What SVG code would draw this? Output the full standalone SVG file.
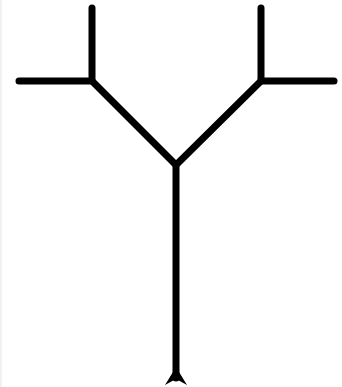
<svg xmlns="http://www.w3.org/2000/svg" width="342" height="387" viewBox="0 0 342 387">
<style>
.w{fill:none;stroke:#000;stroke-width:7;stroke-linecap:round;stroke-linejoin:round}
</style>
<rect width="342" height="387" fill="#fff"/>
<line x1="1" y1="0" x2="1" y2="387" stroke="#eeeeee" stroke-width="1.5"/>
<g id="connectors">
<polyline class="w" points="19,81 92,81 92,8"/>
<polyline class="w" points="334,81 261,81 261,8"/>
<polyline class="w" points="92,81 176,165 261,81"/>
<line class="w" x1="176" y1="165" x2="176" y2="378" stroke-linecap="butt"/>
<path d="M176,367 L187,385 L176,379 L165,385 Z" fill="#000"/>
</g>
</svg>
